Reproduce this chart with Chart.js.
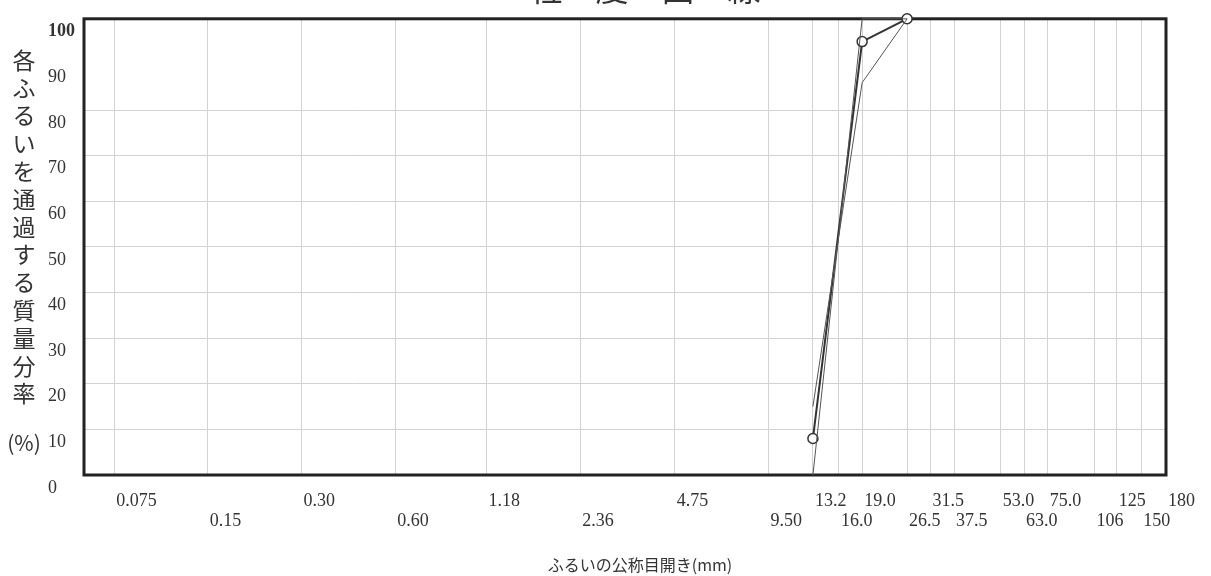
<!DOCTYPE html>
<html lang="ja">
<head>
<meta charset="utf-8">
<title>粒度曲線</title>
<script src="https://cdn.jsdelivr.net/npm/chart.js@4/dist/chart.umd.min.js"></script>
<style>
  body { margin: 0; background: #fff; }
  #wrap { width: 1211px; height: 576px; position: relative; }
</style>
</head>
<body>
<div id="wrap"><canvas id="myChart" width="1211" height="576"></canvas></div>
<script>
// sieve sizes (mm) and the printed tick labels
const sieveSizes = [0.075, 0.15, 0.3, 0.6, 1.18, 2.36, 4.75, 9.5, 13.2, 16, 19, 26.5, 31.5, 37.5, 53, 63, 75, 106, 125, 150, 180];
const sieveLabels = ['0.075', '0.15', '0.30', '0.60', '1.18', '2.36', '4.75', '9.50', '13.2', '16.0', '19.0', '26.5', '31.5', '37.5', '53.0', '63.0', '75.0', '106', '125', '150', '180'];
const percentTicks = [0, 10, 20, 30, 40, 50, 60, 70, 80, 90, 100];

// measured curve
const measuredSizes = [13.2, 19.0, 26.5];
const measuredPassing = [8, 95, 100];

// standard range lines
const limitASizes = [13.2, 19.0, 26.5];
const limitAPassing = [0, 100, 100];
const limitBSizes = [13.2, 19.0, 26.5];
const limitBPassing = [15, 86, 100];

const chartTitle = '粒　度　曲　線';
const yTitle = '各ふるいを通過する質量分率';
const yTitleUnit = '(%)';
const xTitle = 'ふるいの公称目開き(mm)';

function toPoints(xs, ys) {
  return xs.map(function(x, i) { return { x: x, y: ys[i] }; });
}

const serif = "'Liberation Serif', 'DejaVu Serif', serif";
const jp = "'Noto Sans CJK JP', sans-serif";

const sheetText = {
  id: 'sheetText',
  beforeDatasetsDraw(chart) {
    const a = chart.chartArea;
    const c = chart.ctx;
    c.save();
    c.strokeStyle = '#222';
    c.lineWidth = 3;
    c.strokeRect(a.left, a.top, a.right - a.left, a.bottom - a.top);
    c.restore();
  },
  afterDraw(chart) {
    const c = chart.ctx;
    c.save();
    c.fillStyle = '#333';
    // title, cut off by the top edge like the scan
    c.font = '33px ' + jp;
    c.textAlign = 'center';
    c.textBaseline = 'alphabetic';
    c.fillText(chartTitle, 645, 1);

    // vertical y title, one character per row
    c.font = '23px ' + jp;
    c.textBaseline = 'middle';
    Array.from(yTitle).forEach(function(ch, i) {
      c.fillText(ch, 24, 60 + i * 27.8);
    });
    c.font = '21px ' + jp;
    c.fillText(yTitleUnit, 24, 443);

    c.font = '16px ' + jp;
    c.fillText(xTitle, 640, 565);
    c.restore();
  }
};

const ctx = document.getElementById('myChart').getContext('2d');
const chart = new Chart(ctx, {
  type: 'line',
  data: {
    datasets: [{
      label: 'limitA',
      data: toPoints(limitASizes, limitAPassing),
      borderColor: '#555',
      borderWidth: 1,
      pointRadius: 0,
      clip: false,
    },
    {
      label: 'limitB',
      data: toPoints(limitBSizes, limitBPassing),
      borderColor: '#555',
      borderWidth: 1,
      pointRadius: 0,
      clip: false,
    },
    {
      label: 'measured',
      data: toPoints(measuredSizes, measuredPassing),
      borderColor: '#333',
      borderWidth: 2,
      pointRadius: 5,
      pointBackgroundColor: '#fff',
      pointBorderColor: '#333',
      pointBorderWidth: 1.5,
      clip: false,
    }]
  },
  options: {
    responsive: false,
    animation: false,
    devicePixelRatio: 1,
    layout: { padding: { left: 48, top: 11, right: 45, bottom: 0 } },
    plugins: {
      legend: { display: false },
      tooltip: { enabled: false },
    },
    scales: {
      x: {
        type: 'logarithmic',
        min: 0.06,
        max: 180,
        afterBuildTicks: function(scale) {
          scale.ticks = sieveSizes.map(function(v) { return { value: v }; });
        },
        afterFit: function(scale) { scale.height = 101; },
        border: { display: false },
        grid: { color: '#d2d2d2', lineWidth: 1, drawTicks: false },
        ticks: {
          autoSkip: false,
          maxRotation: 0,
          align: 'start',
          labelOffset: 2,
          padding: 16,
          color: '#333',
          font: { family: serif, size: 18, lineHeight: 1.11 },
          callback: function(value, index) {
            const label = sieveLabels[index];
            return index % 2 === 0 ? [label, ''] : ['', label];
          }
        }
      },
      y: {
        min: 0,
        max: 100,
        afterBuildTicks: function(scale) {
          scale.ticks = percentTicks.map(function(v) { return { value: v }; });
        },
        afterFit: function(scale) { scale.width = 36; },
        border: { display: false },
        grid: {
          drawTicks: false,
          lineWidth: 1,
          color: function(c) { return c.tick && c.tick.value === 90 ? 'rgba(0,0,0,0)' : '#d2d2d2'; }
        },
        ticks: {
          crossAlign: 'far',
          padding: 8,
          labelOffset: 13,
          color: '#333',
          font: function(c) {
            return { family: serif, size: 18, weight: c.tick && c.tick.value === 100 ? 'bold' : 'normal' };
          }
        }
      }
    }
  },
  plugins: [sheetText]
});
</script>
</body>
</html>
